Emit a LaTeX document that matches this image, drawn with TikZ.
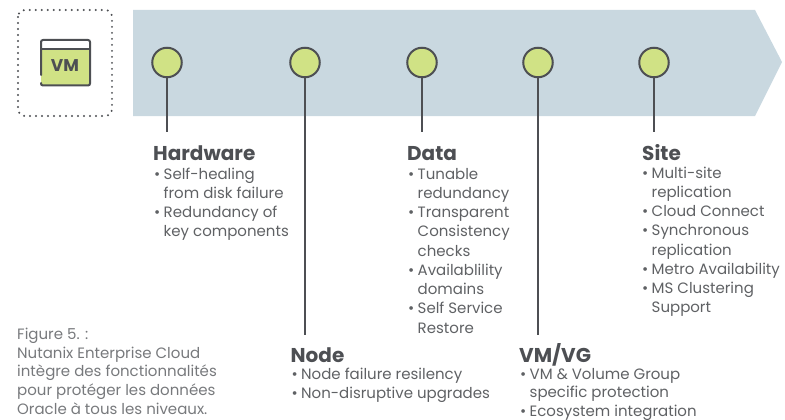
\documentclass[tikz,border=0pt]{standalone}
\usepackage{fontspec}
\setmainfont{Poppins}
\definecolor{band}{HTML}{C9D8E0}
\definecolor{lime}{HTML}{D0E285}
\definecolor{ink}{HTML}{4D4F53}
\definecolor{cap}{HTML}{77797C}
\tikzset{
  dot/.style={circle,draw=ink,line width=2pt,fill=lime,minimum size=29.5pt,inner sep=0pt},
  stem/.style={draw=ink,line width=2pt},
  head/.style={anchor=base west,inner sep=0pt,font=\fontsize{20}{22}\selectfont\bfseries,text=ink},
  body/.style={anchor=north west,inner sep=0pt,align=left,font=\fontsize{15}{19.25}\selectfont,text=ink!90},
  bodytight/.style={body,font=\fontsize{15}{18.7}\selectfont},
  captext/.style={anchor=north west,inner sep=0pt,align=left,font=\fontsize{15}{18.8}\selectfont,text=cap}
}
\newcommand{\bl}{\makebox[10.5pt][l]{\hspace*{1pt}•}}
\newcommand{\ind}{\hspace*{10.5pt}}
\newcommand{\fs}{\rule{0pt}{13pt}}
\begin{document}
\begin{tikzpicture}[x=1pt,y=-1pt]
\useasboundingbox (0,0) rectangle (785,420);
\fill[band] (133,10) -- (755,10) -- (782,62) -- (755,116) -- (133,116) -- cycle;
% icon
\draw[ink,line width=2.2pt,dash pattern=on 0pt off 6pt,line cap=round,rounded corners=7pt] (18,10) rectangle (112,116);
\fill[lime] (41,49) rectangle (90,85);
\draw[ink,line width=2pt,line cap=round,rounded corners=2pt] (41,75) -- (41,40) -- (90,40) -- (90,85.5) -- (41,85.5) -- (41,83);
\draw[ink,line width=2pt] (41,49) -- (90,49);
\node[inner sep=0pt,text=ink,font=\fontsize{17}{18}\selectfont\bfseries] (vm) at (65,66) {VM};
% markers
\node[dot] (d1) at (167,62.5) {};
\node[dot] (d2) at (305,62.5) {};
\node[dot] (d3) at (422,62.5) {};
\node[dot] (d4) at (538,62.5) {};
\node[dot] (d5) at (654,62.5) {};
\coordinate (e1) at (167,132);
\coordinate (e2) at (305,335);
\coordinate (e3) at (422,132);
\coordinate (e4) at (538,335);
\coordinate (e5) at (654,132);
\foreach \i in {1,...,5}{\draw[stem] (d\i) -- (e\i);}
% labels
\node[head] (h1) at (153,160) {Hardware};
\node[body] (b1) at (153,166) {\fs\bl Self-healing\\\ind from disk failure\\\bl Redundancy of\\\ind key components};
\node[head] (h2) at (290.5,362) {Node};
\node[body] (b2) at (290.5,366) {\fs\bl Node failure resilency\\\bl Non-disruptive upgrades};
\node[head] (h3) at (407,160) {Data};
\node[body] (b3) at (407,166) {\fs\bl Tunable\\\ind redundancy\\\bl Transparent\\\ind Consistency\\\ind checks\\\bl Availablility\\\ind domains\\\bl Self Service\\\ind Restore};
\node[head] (h4) at (519,362) {VM/VG};
\node[bodytight] (b4) at (519,366) {\fs\bl VM \& Volume Group\\\ind specific protection\\\bl Ecosystem integration};
\node[head] (h5) at (642,160) {Site};
\node[body] (b5) at (641,165) {\fs\bl Multi-site\\\ind replication\\\bl Cloud Connect\\\bl Synchronous\\\ind replication\\\bl Metro Availability\\\bl MS Clustering\\\ind Support};
\node[captext] (c) at (17,326) {\fs Figure 5. :\\Nutanix Enterprise Cloud\\intègre des fonctionnalités\\pour protéger les données\\Oracle à tous les niveaux.};
\end{tikzpicture}
\end{document}
